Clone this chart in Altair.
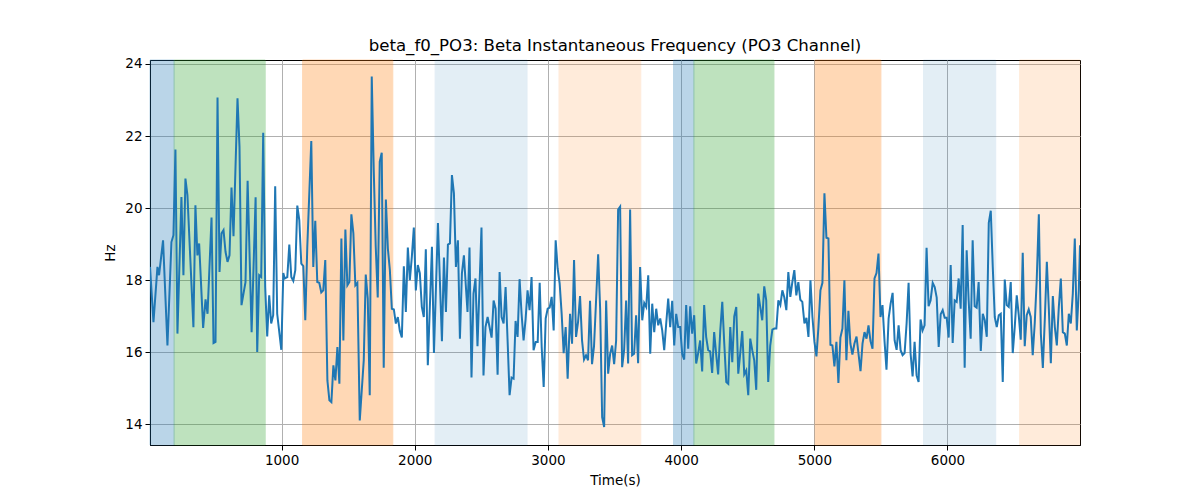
import altair as alt
import pandas as pd

# Sampled beta instantaneous frequency (PO3 channel)
TIME_S = [
    12, 38, 68, 80, 110, 143, 173, 188, 203, 218, 248, 263, 278, 293, 338, 353, 368, 381,
    411, 429, 444, 474, 489, 504, 519, 534, 549, 564, 579, 594, 609, 624, 639, 669, 684,
    699, 729, 745, 775, 805,
    817, 832, 847, 862, 877, 892, 907, 922, 937, 952, 967, 998, 1013, 1023, 1043, 1058,
    1073, 1088, 1103, 1118, 1133, 1148, 1163, 1178, 1193, 1223, 1238, 1253, 1268, 1283,
    1298, 1313, 1328, 1344, 1359, 1374, 1389, 1404, 1419, 1434, 1449, 1464, 1479, 1494,
    1509, 1524, 1539, 1554, 1569,
    1587, 1617, 1632, 1647, 1662, 1677, 1692, 1707, 1722, 1737, 1752, 1767, 1783, 1798,
    1813, 1828, 1843, 1858, 1873, 1888, 1903, 1918, 1933, 1948, 1963, 1978, 1993, 2008,
    2023, 2038, 2053, 2068, 2083, 2098, 2129, 2144, 2174, 2204, 2219, 2234, 2249, 2264,
    2279, 2294, 2309, 2324, 2339, 2354, 2369,
    2396, 2411, 2426, 2441, 2456, 2471, 2501, 2516, 2531, 2547, 2577, 2592, 2607, 2622,
    2637, 2652, 2667, 2682, 2697, 2712, 2727, 2742, 2757, 2772, 2787, 2802, 2817, 2832,
    2847, 2862, 2877, 2892, 2908, 2923, 2938, 2953, 2968, 2983, 2998, 3013, 3028, 3043,
    3058, 3073, 3088, 3103, 3118, 3133, 3148,
    3166, 3181, 3196, 3211, 3226, 3241, 3256, 3271, 3286, 3301, 3316, 3331, 3346, 3377,
    3392, 3407, 3422, 3437, 3452, 3467, 3482, 3497, 3512, 3527, 3542, 3557, 3572, 3587,
    3602, 3617, 3632, 3647, 3662, 3677, 3692, 3708, 3723, 3738, 3753, 3768, 3783, 3798,
    3813, 3828, 3843, 3858, 3873, 3888, 3903, 3918, 3933, 3948, 3963, 3978,
    3993, 4008, 4023, 4038, 4053, 4068, 4083, 4098, 4113, 4128, 4143, 4158, 4173, 4188,
    4203, 4218, 4233, 4248, 4263, 4278, 4294, 4309, 4324, 4339, 4354, 4369, 4384, 4399,
    4414, 4429, 4444, 4459, 4474, 4489, 4504, 4519, 4534, 4549, 4564, 4579, 4594, 4609,
    4624, 4639, 4654, 4669, 4685, 4700, 4715,
    4730, 4745, 4760, 4775, 4790, 4805, 4820, 4835, 4850, 4865, 4880, 4895, 4910, 4926,
    4941, 4956, 4971, 4986, 5001, 5016, 5031, 5046, 5061, 5076, 5091, 5106, 5121, 5136,
    5151, 5166, 5181, 5196, 5211, 5226, 5241, 5256, 5271, 5286, 5301, 5317, 5332, 5347,
    5362, 5377, 5392, 5407, 5422, 5437, 5452, 5467, 5482, 5497, 5512, 5527, 5542,
    5558, 5573, 5588, 5603, 5618, 5633, 5648, 5663, 5678, 5693, 5708, 5723, 5738, 5753,
    5768, 5783, 5798, 5813, 5828, 5843, 5858, 5873, 5889, 5904, 5919, 5934, 5949, 5964,
    5979, 5994, 6009, 6024, 6039, 6054, 6069, 6084, 6099, 6114, 6129, 6144, 6159, 6174,
    6189, 6204, 6219, 6234, 6250, 6265, 6280, 6295, 6310, 6325, 6340,
    6355, 6370, 6385, 6400, 6415, 6430, 6445, 6460, 6475, 6490, 6505, 6520, 6535, 6550,
    6565, 6580, 6595, 6610, 6625, 6640, 6655, 6670, 6686, 6701, 6716, 6731, 6746, 6761,
    6776, 6791, 6806, 6821, 6836, 6851, 6866, 6881, 6896, 6911, 6926, 6941, 6956, 6971,
    6986, 6995,
]
FREQ_HZ = [
    18.37, 16.84, 18.37, 18.14, 19.11, 16.19, 19.06, 19.25, 21.63, 16.52, 20.31, 18.14, 20.82, 20.36, 16.70, 20.08, 18.69, 19.02,
    16.68, 17.47, 17.07, 19.74, 16.26, 16.29, 23.07, 18.23, 19.30, 19.39, 18.79, 18.51, 18.69, 20.57, 19.22, 23.05, 21.70,
    17.31, 17.95, 20.76, 16.56, 20.30,
    16.01, 18.14, 18.09, 22.09, 17.81, 16.44, 17.58, 16.80, 17.03, 20.61, 17.07, 16.07, 18.20, 18.05, 18.09, 18.99,
    18.09, 17.98, 18.28, 20.07, 19.67, 18.46, 18.39, 16.89, 18.93, 21.86, 18.37, 19.65, 17.95, 17.93,
    17.66, 17.72, 18.56, 15.22, 14.67, 14.62, 15.64, 15.22, 16.15, 15.13, 19.16, 16.33, 19.41, 17.86,
    17.95, 19.83, 19.30, 17.86, 17.93,
    14.11, 15.78, 18.16, 17.49, 14.81, 23.65, 21.06, 18.93, 17.52, 21.29, 21.54, 15.57, 20.24, 18.88,
    18.28, 17.21, 17.19, 16.80, 16.98, 16.59, 16.41, 18.39, 17.12, 18.91, 18.00, 18.65, 19.46, 17.72,
    18.42, 18.20, 17.26, 16.98, 18.86, 15.64, 18.93, 15.98, 19.59, 16.31, 18.63, 17.12, 18.99, 19.02,
    20.92, 20.41, 18.37, 19.11, 16.38, 18.19, 18.69,
    17.12, 18.91, 15.30, 17.63, 18.05, 16.17, 19.46, 15.36, 16.70, 16.98, 16.41, 17.44, 17.21, 15.38,
    18.23, 16.98, 16.80, 17.81, 16.33, 14.81, 15.30, 15.27, 16.87, 16.43, 18.03, 17.07, 16.33, 16.91,
    17.72, 17.17, 18.09, 16.06, 16.29, 16.29, 17.93, 16.15, 15.04, 16.94, 17.21, 17.24, 17.54, 16.61,
    19.11, 18.32, 17.91, 17.07, 15.98, 16.70, 15.27,
    17.07, 16.24, 18.56, 16.43, 16.84, 17.56, 16.33, 15.80, 15.92, 15.78, 17.43, 15.67, 16.17, 18.72,
    17.21, 14.20, 13.93, 17.44, 15.41, 15.96, 16.19, 15.67, 16.33, 19.96, 20.04, 15.59, 16.06, 17.44,
    15.69, 19.96, 15.92, 15.96, 17.03, 15.70, 18.37, 16.89, 17.37, 17.26, 18.14, 15.96, 17.35, 16.56,
    17.21, 16.75, 16.94, 16.61, 16.06, 16.80, 17.49, 16.70, 17.43, 16.19, 17.07, 16.70,
    16.70, 15.96, 15.80, 17.31, 16.10, 17.28, 16.52, 17.03, 15.69, 15.98, 16.33, 15.47, 17.31, 16.43,
    16.06, 16.03, 15.43, 16.56, 15.96, 15.39, 16.61, 17.40, 16.24, 15.18, 15.13, 16.70, 15.73, 17.00,
    17.26, 15.41, 15.98, 16.59, 15.39, 15.50, 14.81, 16.38, 16.06, 15.78, 14.96, 17.63, 17.26, 16.89,
    17.83, 17.44, 15.18, 16.19, 16.63, 16.66, 16.66,
    17.44, 17.31, 17.72, 17.52, 17.17, 18.23, 17.54, 17.95, 18.28, 17.58, 17.95, 17.46, 17.40, 16.80,
    16.96, 16.43, 18.00, 16.98, 16.29, 15.89, 16.70, 17.72, 17.93, 20.41, 19.18, 19.16, 16.21, 16.19,
    15.61, 16.29, 15.15, 16.41, 16.66, 18.00, 15.78, 17.15, 16.24, 15.94, 16.24, 16.44, 15.96, 15.48,
    16.24, 16.56, 16.38, 16.75, 16.31, 16.10, 18.05, 18.20, 18.74, 16.98, 17.31, 16.33, 15.52,
    16.94, 17.35, 17.65, 16.33, 16.07, 16.75, 16.06, 15.92, 15.98, 16.80, 17.93, 15.96, 15.33, 16.29,
    15.36, 15.18, 16.91, 16.61, 16.75, 18.90, 17.28, 17.44, 17.93, 17.81, 17.52, 16.15, 17.06, 17.17,
    16.96, 16.96, 16.41, 18.42, 16.26, 17.44, 17.40, 18.05, 17.21, 19.53, 15.57, 18.83, 17.44, 16.38,
    19.11, 17.28, 17.24, 17.95, 16.04, 17.07, 16.89, 16.43, 19.59, 19.93, 18.37,
    16.98, 16.70, 17.03, 17.07, 15.18, 18.02, 17.31, 17.26, 17.95, 15.98, 16.70, 17.58, 17.03, 16.35,
    18.76, 16.17, 17.03, 17.19, 16.98, 15.92, 16.80, 18.00, 19.83, 16.52, 15.57, 16.94, 18.51, 17.21,
    15.70, 17.56, 16.70, 16.19, 17.26, 18.05, 16.56, 16.52, 16.19, 17.07, 16.80, 17.63, 19.16, 16.61,
    17.72, 18.97,
]

# Shaded intervals
SPAN_START = [12, 193, 1158, 2153, 3083, 3943, 4096, 5006, 5820, 6542]
SPAN_END = [193, 877, 1835, 2843, 3697, 4096, 4697, 5500, 6362, 6995]
SPAN_KIND = ["blue", "green", "orange", "pale blue", "pale orange",
             "blue", "green", "orange", "pale blue", "pale orange"]

X_TICKS = [1000, 2000, 3000, 4000, 5000, 6000]
Y_TICKS = [14, 16, 18, 20, 22, 24]

# styles
KIND_COLORS = {"blue": "#1f77b4", "green": "#2ca02c", "orange": "#ff7f0e",
               "pale blue": "#1f77b4", "pale orange": "#ff7f0e"}
KIND_OPACITY = {"blue": 0.3, "green": 0.3, "orange": 0.3,
                "pale blue": 0.12, "pale orange": 0.15}
FONT = "DejaVu Sans"

line_df = pd.DataFrame({"t": TIME_S, "hz": FREQ_HZ})
span_df = pd.DataFrame({"start": SPAN_START, "end": SPAN_END, "kind": SPAN_KIND})
span_df["fill"] = span_df["kind"].map(KIND_COLORS)
span_df["alpha"] = span_df["kind"].map(KIND_OPACITY)

x_scale = alt.Scale(domain=[12, 6995], nice=False, zero=False)
y_scale = alt.Scale(domain=[13.43, 24.11], nice=False, zero=False)

x_axis = alt.Axis(title="Time(s)", values=X_TICKS, format="d", grid=True)
y_axis = alt.Axis(title="Hz", values=Y_TICKS, format="d", grid=True)

spans = alt.Chart(span_df).mark_rect(strokeWidth=1).encode(
    x=alt.X("start:Q", scale=x_scale, axis=x_axis),
    x2="end:Q",
    color=alt.Color("fill:N", scale=None),
    stroke=alt.Stroke("fill:N", scale=None),
    opacity=alt.Opacity("alpha:Q", scale=None),
)

line = alt.Chart(line_df).mark_line(color="#1f77b4", strokeWidth=2, clip=True).encode(
    x=alt.X("t:Q", scale=x_scale, axis=x_axis),
    y=alt.Y("hz:Q", scale=y_scale, axis=y_axis),
)

chart = alt.layer(spans, line).properties(
    width=930,
    height=385,
    autosize=alt.AutoSizeParams(type="none"),
    padding={"left": 142, "top": 52, "right": 112, "bottom": 50},
    title=alt.Title(
        "beta_f0_PO3: Beta Instantaneous Frequency (PO3 Channel)",
        font=FONT, fontSize=16.6, fontWeight="normal", color="black", offset=2,
    ),
).configure_view(
    stroke="black", strokeWidth=1
).configure_axis(
    labelFont=FONT, titleFont=FONT, labelFontSize=13.5, titleFontSize=13.5,
    labelColor="black", titleColor="black", titleFontWeight="normal",
    domainColor="black", tickColor="black", tickSize=5,
    gridColor="#b0b0b0", gridWidth=1, labelPadding=3,
).configure_axisX(
    titlePadding=7
).configure_axisY(
    titlePadding=7
)

chart.save("out.html", embed_options={"renderer": "svg", "actions": False})
